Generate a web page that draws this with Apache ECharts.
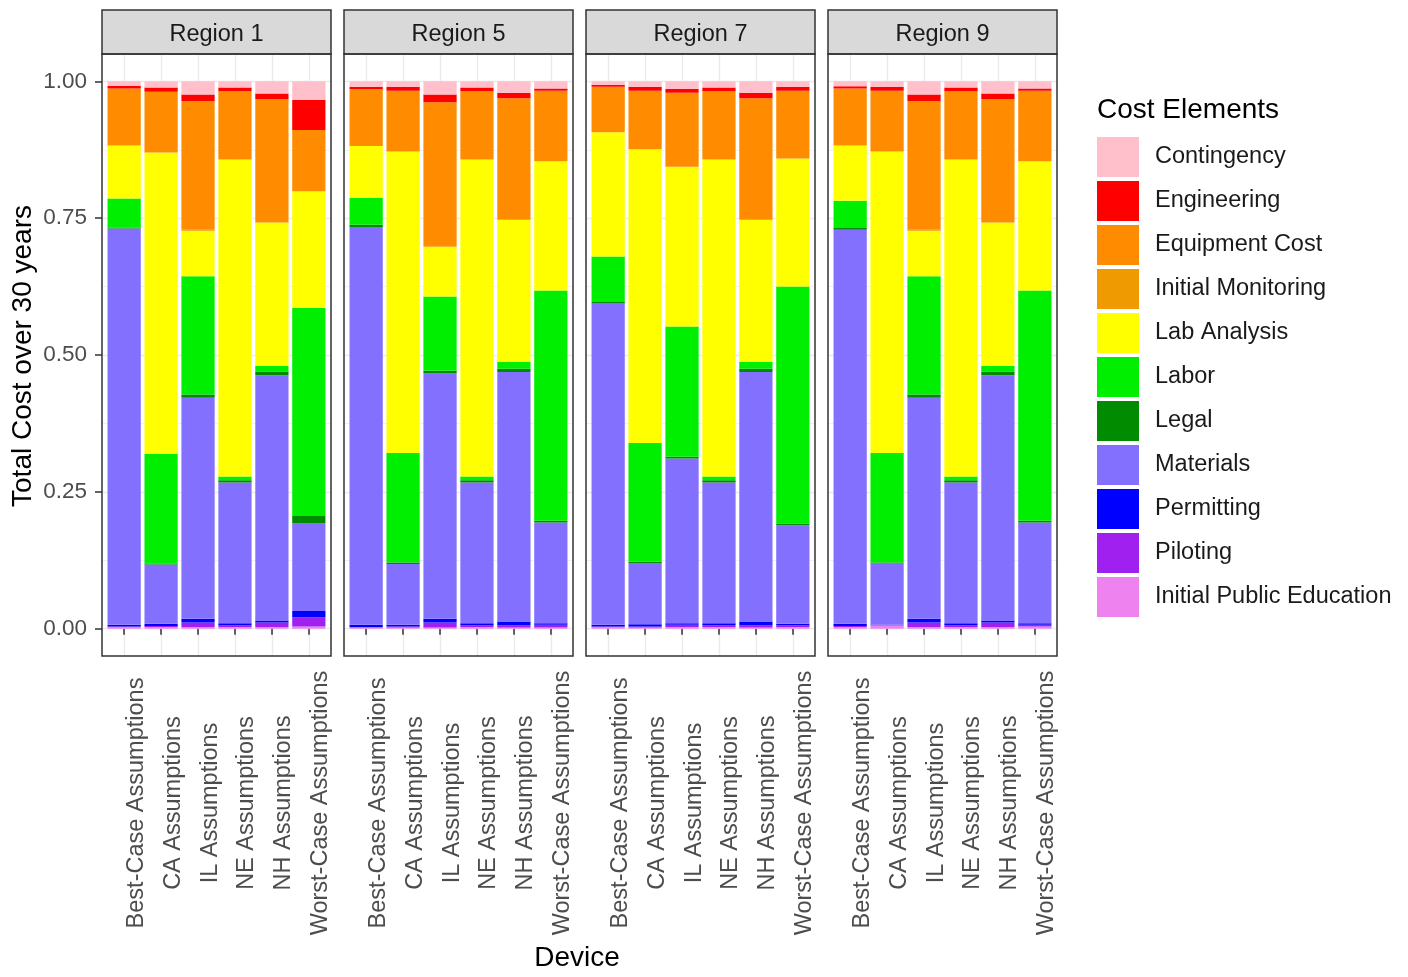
<!DOCTYPE html>
<html><head><meta charset="utf-8">
<script src="https://cdn.jsdelivr.net/npm/echarts@6/dist/echarts.min.js"></script>
<style>html,body{margin:0;padding:0;background:#fff}#chart{width:1408px;height:977px}</style>
</head><body><div id="chart"></div>
<script>
// ---------- data ----------
const devices = ['Best-Case Assumptions','CA Assumptions','IL Assumptions','NE Assumptions','NH Assumptions','Worst-Case Assumptions'];
const regions = ['Region 1','Region 5','Region 7','Region 9'];
const elements = ['Contingency','Engineering','Equipment Cost','Initial Monitoring','Lab Analysis','Labor','Legal','Materials','Permitting','Piloting','Initial Public Education'];
const yTickValues = [0, 0.25, 0.5, 0.75, 1];
const yMinorValues = [0.125, 0.375, 0.625, 0.875];

// rows follow `elements`, columns follow `devices`
const region1 = [
  [0.008, 0.011, 0.024, 0.011, 0.022, 0.034], // Contingency
  [0.005, 0.008, 0.012, 0.007, 0.010, 0.055], // Engineering
  [0.104, 0.111, 0.235, 0.125, 0.226, 0.112], // Equipment Cost
  [0.000, 0.000, 0.002, 0.000, 0.000, 0.000], // Initial Monitoring
  [0.097, 0.551, 0.083, 0.579, 0.262, 0.213], // Lab Analysis
  [0.053, 0.200, 0.216, 0.007, 0.010, 0.380], // Labor
  [0.002, 0.002, 0.006, 0.004, 0.007, 0.014], // Legal
  [0.724, 0.108, 0.404, 0.257, 0.448, 0.160], // Materials
  [0.003, 0.004, 0.007, 0.004, 0.004, 0.011], // Permitting
  [0.001, 0.002, 0.008, 0.003, 0.008, 0.017], // Piloting
  [0.003, 0.003, 0.003, 0.003, 0.003, 0.004]  // Initial Public Education
];
const region5 = [
  [0.010, 0.010, 0.024, 0.011, 0.021, 0.013],
  [0.004, 0.007, 0.014, 0.007, 0.010, 0.004],
  [0.104, 0.111, 0.261, 0.125, 0.222, 0.129],
  [0.000, 0.000, 0.003, 0.000, 0.000, 0.000],
  [0.095, 0.551, 0.091, 0.579, 0.260, 0.236],
  [0.049, 0.200, 0.136, 0.007, 0.012, 0.421],
  [0.004, 0.003, 0.005, 0.004, 0.006, 0.003],
  [0.727, 0.111, 0.448, 0.257, 0.456, 0.184],
  [0.004, 0.003, 0.007, 0.004, 0.007, 0.003],
  [0.001, 0.002, 0.009, 0.003, 0.004, 0.005],
  [0.002, 0.002, 0.002, 0.003, 0.002, 0.002]
];
const region7 = [
  [0.006, 0.010, 0.014, 0.011, 0.021, 0.010],
  [0.004, 0.007, 0.007, 0.007, 0.010, 0.007],
  [0.083, 0.107, 0.135, 0.125, 0.222, 0.124],
  [0.000, 0.000, 0.000, 0.000, 0.000, 0.000],
  [0.227, 0.537, 0.292, 0.579, 0.260, 0.234],
  [0.083, 0.217, 0.238, 0.007, 0.012, 0.433],
  [0.002, 0.003, 0.003, 0.004, 0.006, 0.003],
  [0.588, 0.111, 0.301, 0.257, 0.456, 0.180],
  [0.003, 0.004, 0.003, 0.004, 0.007, 0.003],
  [0.001, 0.002, 0.004, 0.003, 0.004, 0.003],
  [0.003, 0.002, 0.003, 0.003, 0.002, 0.003]
];
const region9 = [
  [0.009, 0.010, 0.024, 0.011, 0.022, 0.013],
  [0.004, 0.007, 0.012, 0.007, 0.010, 0.004],
  [0.104, 0.111, 0.235, 0.125, 0.226, 0.129],
  [0.000, 0.000, 0.002, 0.000, 0.000, 0.000],
  [0.101, 0.551, 0.083, 0.579, 0.262, 0.236],
  [0.050, 0.200, 0.216, 0.007, 0.010, 0.421],
  [0.003, 0.002, 0.006, 0.004, 0.007, 0.003],
  [0.720, 0.112, 0.404, 0.257, 0.448, 0.184],
  [0.004, 0.001, 0.007, 0.004, 0.004, 0.003],
  [0.002, 0.000, 0.008, 0.003, 0.008, 0.003],
  [0.003, 0.006, 0.003, 0.003, 0.003, 0.004]
];
const regionValues = [region1, region5, region7, region9];

// ---------- styles ----------
const colors = {
  'Contingency': '#FFC0CB', 'Engineering': '#FF0000', 'Equipment Cost': '#FF8C00',
  'Initial Monitoring': '#EE9A00', 'Lab Analysis': '#FFFF00', 'Labor': '#00EE00',
  'Legal': '#008B00', 'Materials': '#8470FF', 'Permitting': '#0000FF',
  'Piloting': '#A020F0', 'Initial Public Education': '#EE82EE'
};
const FONT = "'Liberation Sans', Arial, sans-serif";
const panelLeft = [102, 344, 586, 828];
const panelW = 229, panelTop = 54, panelH = 602;
const band = panelW / 6.2;

const grid = [], xAxis = [], yAxis = [], series = [], graphic = [];
regions.forEach((reg, i) => {
  const L = panelLeft[i];
  grid.push({left: L, top: panelTop, width: panelW, height: panelH, show: true, backgroundColor: '#fff', borderWidth: 0});
  grid.push({left: L + 0.1 * band, top: panelTop, width: 6 * band, height: panelH});
  xAxis.push({gridIndex: 2*i, type: 'value', min: 0.4, max: 6.6,
    axisLine: {show: false}, axisLabel: {show: false},
    axisTick: {show: false, customValues: [1,2,3,4,5,6]},
    splitLine: {show: true, lineStyle: {color: '#EBEBEB', width: 1.4}}});
  xAxis.push({gridIndex: 2*i+1, type: 'category', data: devices, boundaryGap: true,
    axisLine: {show: false},
    axisTick: {show: true, alignWithLabel: true, length: 6, lineStyle: {color: '#333333', width: 1.5}},
    axisLabel: {interval: 0, rotate: 90, align: 'center', verticalAlign: 'top', margin: 147,
      fontSize: 23.5, color: '#4D4D4D', fontFamily: FONT},
    splitLine: {show: false}});
  yAxis.push({gridIndex: 2*i, type: 'value', min: -0.05, max: 1.05,
    axisLine: {show: false},
    axisTick: {show: i === 0, customValues: yTickValues, length: 7, lineStyle: {color: '#333333', width: 1.5}},
    axisLabel: {show: i === 0, customValues: yTickValues, margin: 15, fontSize: 22.5, color: '#4D4D4D', fontFamily: FONT,
      padding: [10, 0, 0, 0], formatter: v => Number(v).toFixed(2)},
    splitLine: {show: true, lineStyle: {color: '#EBEBEB', width: 1.4}}});
  yAxis.push({gridIndex: 2*i, type: 'value', min: -0.05, max: 1.05,
    axisLine: {show: false}, axisLabel: {show: false},
    axisTick: {show: false, customValues: yMinorValues},
    splitLine: {show: true, lineStyle: {color: '#F0F0F0', width: 1}}});
  yAxis.push({gridIndex: 2*i+1, type: 'value', min: -0.05, max: 1.05, show: false,
    splitLine: {show: false}});
  const vals = regionValues[i];
  for (let k = elements.length - 1; k >= 0; k--) {
    const el = elements[k];
    series.push({name: el, type: 'bar', stack: 'p' + i, xAxisIndex: 2*i+1, yAxisIndex: 3*i+2,
      barCategoryGap: '10%', itemStyle: {color: colors[el]}, data: vals[k], animation: false});
  }
  graphic.push({type: 'rect', shape: {x: L, y: 10, width: panelW, height: 44},
    style: {fill: '#D9D9D9', stroke: '#333333', lineWidth: 1.5}, z: 100});
  graphic.push({type: 'text', x: L + panelW / 2, y: 35, z: 101,
    style: {text: reg, fontSize: 23.5, fontFamily: FONT, fill: '#1A1A1A', align: 'center', verticalAlign: 'middle'}});
  graphic.push({type: 'rect', shape: {x: L, y: panelTop, width: panelW, height: panelH},
    style: {fill: null, stroke: '#333333', lineWidth: 1.5}, z: 100});
});
graphic.push({type: 'text', x: 23, y: 356, rotation: Math.PI / 2, z: 101,
  style: {text: 'Total Cost over 30 years', fontSize: 28, fontFamily: FONT, fill: '#000', align: 'center', verticalAlign: 'middle'}});
graphic.push({type: 'text', x: 577, y: 958, z: 101,
  style: {text: 'Device', fontSize: 28, fontFamily: FONT, fill: '#000', align: 'center', verticalAlign: 'middle'}});
graphic.push({type: 'text', x: 1097, y: 110, z: 101,
  style: {text: 'Cost Elements', fontSize: 28, fontFamily: FONT, fill: '#000', align: 'left', verticalAlign: 'middle'}});

const chart = echarts.init(document.getElementById('chart'), null, {renderer: 'canvas'});
chart.setOption({
  animation: false,
  textStyle: {fontFamily: FONT},
  grid, xAxis, yAxis, series, graphic,
  legend: {data: elements, orient: 'vertical', left: 1097, top: 137, padding: 0, icon: 'rect',
    itemWidth: 42, itemHeight: 40, itemGap: 4, selectedMode: false,
    textStyle: {fontSize: 23.5, color: '#1A1A1A', fontFamily: FONT, padding: [6, 0, 0, 11]}}
});
</script></body></html>
